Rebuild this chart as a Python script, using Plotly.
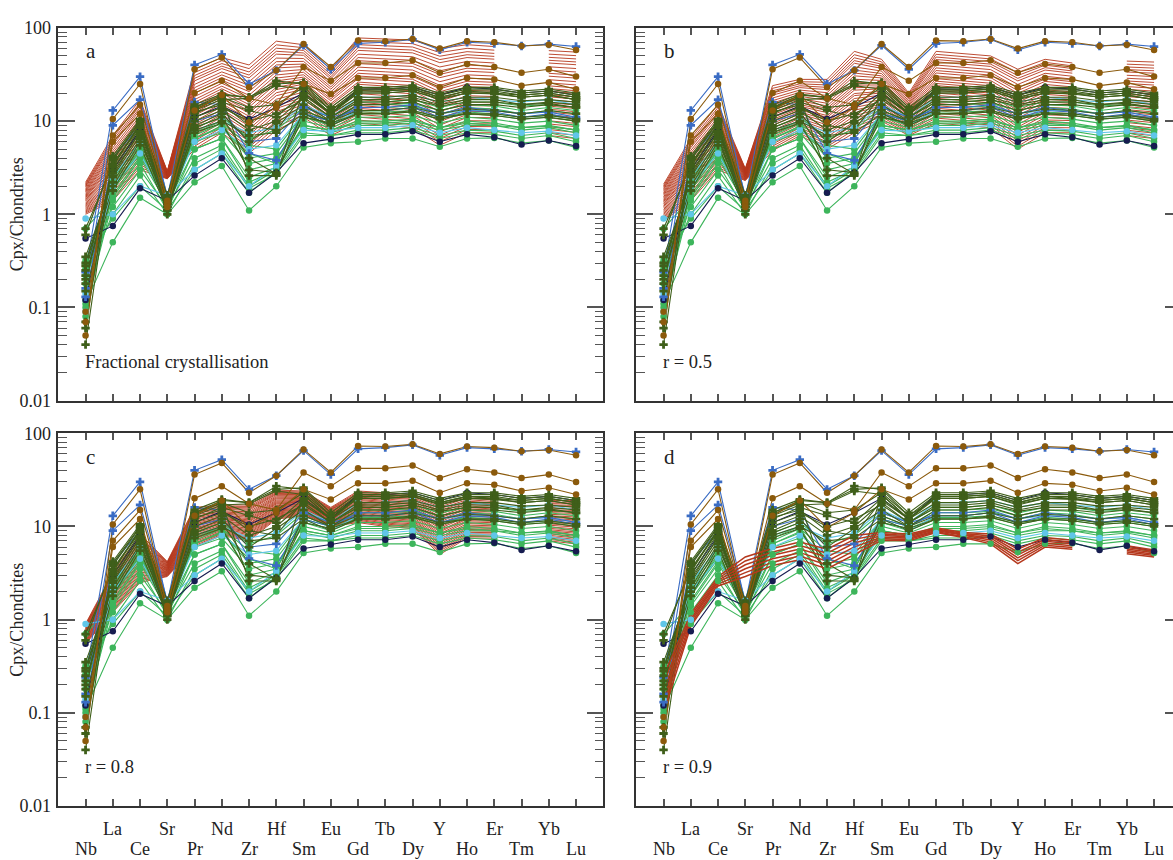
import numpy as np
import plotly.graph_objects as go

# ---------------------------------------------------------------- elements
ELEMENTS = ["Nb", "La", "Ce", "Sr", "Pr", "Nd", "Zr", "Hf", "Sm", "Eu",
            "Gd", "Tb", "Dy", "Y", "Ho", "Er", "Tm", "Yb", "Lu"]

# ------------------------------------------------- clinopyroxene analyses
# chondrite-normalised, order as ELEMENTS
BLUE_SAMPLES = [
    [0.24, 13, 30, 1.5, 40, 52, 25, 35, 65, 36, 68, 70, 75, 58, 70, 68, 64, 67, 63],
    [0.16, 9.0, 17, 1.6, 16, 15, 4.5, 3.8, 12, 10, 14, 14, 15, 12, 14, 13, 12, 12.5, 11],
    [0.13, 4.0, 9.0, 1.2, 10, 12, 6.0, 6.5, 14, 11, 13, 13, 14, 11, 13, 12.5, 11, 12, 10.5],
]
BROWN_SAMPLES = [
    [0.05, 10.5, 25, 1.3, 36, 48, 23, 35, 67, 38, 73, 72, 76, 60, 72, 70, 64, 66, 58],
    [0.07, 7.0, 15, 1.4, 20, 27, 17.5, 15, 38, 27, 42, 42, 45, 33, 41, 38, 33, 36, 30],
    [0.09, 6.0, 12, 1.2, 13, 19, 9.7, 14, 25, 19.5, 29, 29, 31, 23, 29, 28, 24, 26, 22],
]
NAVY_SAMPLES = [
    [0.55, 0.75, 1.9, 1.4, 2.6, 4.0, 1.7, 2.8, 5.8, 6.4, 7.2, 7.2, 7.8, 6.0, 7.2, 6.7, 5.6, 6.2, 5.4],
    [0.12, 3.0, 8.0, 1.3, 11, 14.5, 10.5, 14, 20, 12, 22, 22, 23, 19, 23, 22, 20, 21, 19],
]
LIGHTBLUE_SAMPLES = [
    [0.9, 1.0, 2.0, 1.6, 3.0, 4.5, 2.0, 3.3, 8.0, 7.8, 8.5, 8.5, 9.0, 7.5, 8.5, 8.0, 7.5, 7.8, 7.0],
    [0.09, 2.5, 6.0, 1.5, 8.0, 10, 7.5, 8.5, 15, 11, 18, 18, 19, 16, 18, 17, 16, 17, 15],
    [0.14, 2.0, 4.5, 1.3, 6.0, 8.0, 5.0, 5.5, 12, 9.0, 13, 13, 14, 12, 13, 13, 12, 12.5, 11],
]
OLIVE_SAMPLES = [
    [0.04, 4.0, 10, 1.5, 14, 19, 18, 27, 25, 13, 22, 22, 23, 19, 22, 22, 20, 21, 19],
    [0.07, 3.5, 9.0, 1.4, 13, 17, 17.5, 24, 22, 12, 21, 21, 22, 18, 21, 21, 19, 20, 18],
    [0.2, 3.0, 8.5, 1.3, 12, 16, 13, 11, 20, 12, 20, 20, 21, 17, 20, 20, 18, 19, 17],
    [0.25, 2.8, 7.5, 1.2, 10, 13, 8.0, 10, 18, 11, 17, 17, 18, 15, 17, 17, 15, 16, 15],
    [0.3, 2.5, 7.0, 1.1, 9.0, 12, 6.0, 9.5, 15, 10, 15, 15, 16, 13, 15, 15, 14, 15, 14],
    [0.35, 2.2, 6.5, 1.2, 8.5, 11, 4.0, 2.7, 13, 10, 13, 13, 14, 12, 13.5, 13, 12, 13, 12],
    [0.18, 3.2, 9.5, 1.0, 14, 18, 2.6, 2.6, 22, 12, 21, 21, 22, 18, 21, 20, 19, 20, 18],
    [0.22, 2.0, 6.0, 1.3, 8.0, 10, 7.0, 7.5, 12, 9.0, 12, 12, 13, 11, 12, 12, 11, 11.5, 10.5],
    [0.06, 4.2, 10.5, 1.6, 15, 19.5, 18, 25, 26, 14, 23, 23, 24, 20, 23, 23, 21, 22, 20],
    [0.28, 2.6, 7.8, 1.4, 11, 14, 10, 12, 17, 11, 16, 16, 17, 14.5, 16, 16, 15, 15.5, 14],
    [0.15, 1.8, 5.5, 1.1, 7.5, 9.5, 3.0, 2.8, 11, 9.5, 12, 12, 12.5, 10.5, 12, 11.5, 10.5, 11, 10],
    [0.6, 3.8, 9.8, 1.5, 13.5, 18, 14, 15, 23, 13, 20, 20, 21, 17.5, 20, 19.5, 18, 19, 17],
    [0.7, 3.4, 8.8, 1.3, 12.5, 15, 9.0, 8.0, 19, 12, 18, 18, 19, 16, 18, 18, 16.5, 17, 16],
]
GREEN_SAMPLES = [
    [0.11, 0.5, 1.5, 1.0, 2.2, 3.3, 1.1, 2.0, 5.2, 5.8, 6.0, 6.5, 6.5, 5.3, 6.5, 6.6, 5.8, 6.2, 5.2],
    [0.3, 0.9, 2.0, 1.1, 3.0, 4.5, 1.7, 2.9, 7.5, 7.0, 8.0, 8.0, 8.5, 7.0, 8.0, 7.8, 7.0, 7.5, 6.5],
    [0.25, 1.2, 3.0, 1.2, 4.0, 5.5, 2.0, 3.0, 8.5, 7.5, 9.0, 9.0, 9.5, 8.0, 9.0, 9.0, 8.0, 8.5, 7.5],
    [0.7, 1.5, 4.0, 1.3, 5.0, 6.5, 2.5, 3.2, 9.0, 8.0, 10, 10, 10.5, 8.5, 10, 9.5, 8.5, 9.0, 8.0],
    [0.32, 1.8, 4.5, 1.4, 6.0, 7.5, 3.5, 4.0, 10, 8.5, 11, 11, 11.5, 9.5, 11, 10.5, 9.5, 10, 9.0],
    [0.12, 1.6, 4.2, 1.5, 6.5, 8.5, 4.5, 3.5, 11, 9.0, 12, 12, 12.5, 10.5, 12, 11.5, 10.5, 11, 10],
    [0.26, 2.0, 5.0, 1.3, 7.0, 9.5, 5.5, 5.0, 12, 10, 14, 14, 14.5, 12, 14, 13.5, 12, 13, 12],
    [0.18, 2.2, 5.5, 1.2, 7.5, 10, 3.0, 3.5, 13, 10, 15, 15, 15.5, 13, 15, 14.5, 13, 14, 13],
    [0.1, 1.4, 3.5, 1.1, 5.0, 6.5, 2.2, 3.0, 9.0, 8.0, 9.5, 9.5, 10, 8.5, 9.5, 9.0, 8.5, 8.8, 8.0],
    [0.22, 1.0, 2.6, 1.0, 3.5, 5.0, 1.9, 2.7, 7.0, 7.0, 7.5, 7.5, 8.0, 6.5, 7.5, 7.2, 6.5, 7.0, 6.0],
    [0.3, 2.4, 6.0, 1.4, 8.5, 11, 6.5, 8.0, 14, 11, 16, 16, 17, 14, 16, 16, 14.5, 15, 14],
    [0.08, 1.9, 4.8, 1.2, 6.5, 8.8, 4.0, 4.5, 11, 9.5, 12.5, 12.5, 13, 11, 12.5, 12, 11, 11.5, 10.5],
]

# ------------------------------------------------------ melt evolution models
# cpx in equilibrium with the parental melt (F = 1) and with the most
# evolved melt (F = 0.1); Tm was not modelled
FC_START = [1.0, 1.4, 3.0, 2.4, 5.0, 7.5, 4.5, 8.0, 11, 7.0, 9.5, 9.0, 8.5, 5.5, 7.5, 7.5, None, 7.0, 6.5]
FC_END = [2.2, 7.0, 17, 2.9, 36, 48, 40, 72, 66, 36, 78, 76, 74, 60, 66, 63, None, 57, 55]

AFC05_START = [0.85, 1.4, 3.0, 2.3, 4.8, 7.0, 5.0, 7.5, 10, 7.0, 9.5, 9.0, 8.5, 5.0, 7.5, 7.5, None, 7.0, 6.5]
AFC05_END = [2.1, 6.5, 15, 3.1, 24, 28, 28, 56, 46, 20, 56, 53, 50, 36, 46, 42, None, 44, 43]

AFC08_START = [0.55, 1.2, 2.5, 2.9, 6.0, 8.0, 7.0, 12, 13, 10, 11, 10, 9.5, 5.0, 7.5, 7.5, None, 7.0, 6.5]
AFC08_END = [0.9, 3.2, 8.3, 4.2, 16, 17, 17, 24.5, 24, 16, 24, 23, 22, 17, 21, 20, None, 19, 19]

AFC09_START = [0.1, 0.85, 2.3, 2.9, 3.8, 4.4, 3.5, 5.0, 7.1, 7.0, 8.6, 7.6, 6.5, 4.0, 6.0, 5.7, None, 5.1, 4.7]
AFC09_END = [0.25, 1.15, 2.9, 4.7, 5.8, 6.8, 5.7, 8.0, 8.6, 8.3, 9.7, 8.6, 8.3, 5.7, 7.6, 7.1, None, 6.2, 5.6]

# remaining melt fraction at each plotted model step
F_STEPS = [1.00, 0.92, 0.85, 0.79, 0.73, 0.67, 0.62, 0.57, 0.53, 0.49,
           0.45, 0.41, 0.38, 0.35, 0.33, 0.30, 0.28, 0.26, 0.24, 0.22,
           0.20, 0.185, 0.17, 0.155, 0.14, 0.13, 0.12, 0.11, 0.10]
F_STEPS_R09 = [1.00, 0.63, 0.40, 0.25, 0.16, 0.10]

PANEL_LETTERS = ["a", "b", "c", "d"]
PANEL_NOTES = ["Fractional crystallisation", "r = 0.5", "r = 0.8", "r = 0.9"]
Y_TICKS = [0.01, 0.1, 1, 10, 100]
Y_TICK_TEXT = ["0.01", "0.1", "1", "10", "100"]

# ------------------------------------------------------------------ styling
RED = "#b5381d"
GROUPS = [
    (GREEN_SAMPLES, "#3db55b", "circle", 6.5),
    (LIGHTBLUE_SAMPLES, "#60c6e8", "circle", 6.5),
    (NAVY_SAMPLES, "#161c50", "circle", 6.5),
    (BLUE_SAMPLES, "#3a6cc4", "cross", 7),
    (OLIVE_SAMPLES, "#3f5f1a", "cross", 7),
    (BROWN_SAMPLES, "#8b5a0c", "circle", 6.5),
]
# model line width, and whether the curves sit above the sample lines
MODEL_STYLE = [(0.9, False), (0.9, False), (0.9, False), (1.5, True)]
FONT = "Liberation Serif, Times New Roman, serif"
W, H = 1185, 860


def rayleigh_lines(start, end, steps):
    """C = C0 * F**(D-1), bulk D fixed so that F = 0.1 gives `end`."""
    c0 = np.array([np.nan if v is None else v for v in start], float)
    c1 = np.array([np.nan if v is None else v for v in end], float)
    bulk_d = 1.0 - np.log10(c1 / c0)
    out = []
    for f in steps:
        c = c0 * f ** (bulk_d - 1.0)
        out.append([None if np.isnan(v) else float(v) for v in c])
    return out


MODELS = [rayleigh_lines(FC_START, FC_END, F_STEPS),
          rayleigh_lines(AFC05_START, AFC05_END, F_STEPS),
          rayleigh_lines(AFC08_START, AFC08_END, F_STEPS),
          rayleigh_lines(AFC09_START, AFC09_END, F_STEPS_R09)]

# panel frames in pixels: (left, right, top, bottom)
FRAMES = [(58.3, 603.3, 18.3, 400.0), (636.3, 1181.3, 18.3, 400.0),
          (58.3, 603.3, 433.3, 815.0), (636.3, 1181.3, 433.3, 815.0)]

fig = go.Figure()
x_idx = list(range(len(ELEMENTS)))


def add_models(p, xa, ya):
    width = MODEL_STYLE[p][0]
    for m in MODELS[p]:
        fig.add_trace(go.Scatter(x=x_idx, y=m, mode="lines", xaxis=xa, yaxis=ya,
                                 line=dict(color=RED, width=width),
                                 connectgaps=False, showlegend=False,
                                 hoverinfo="skip"))


for p in range(4):
    xa = "x" if p == 0 else f"x{p + 1}"
    ya = "y" if p == 0 else f"y{p + 1}"
    on_top = MODEL_STYLE[p][1]
    if not on_top:
        add_models(p, xa, ya)
    for samples, col, sym, size in GROUPS:
        for s in samples:
            fig.add_trace(go.Scatter(x=x_idx, y=s, mode="lines", xaxis=xa, yaxis=ya,
                                     line=dict(color=col, width=1.1),
                                     showlegend=False, hoverinfo="skip"))
    if on_top:
        add_models(p, xa, ya)
    for samples, col, sym, size in GROUPS:
        for s in samples:
            fig.add_trace(go.Scatter(x=x_idx, y=s, mode="markers", xaxis=xa, yaxis=ya,
                                     marker=dict(color=col, symbol=sym, size=size,
                                                 line=dict(width=0)),
                                     showlegend=False, hoverinfo="skip"))

minor_vals = [m * 10.0 ** e for e in range(-2, 2) for m in range(2, 10)]
layout = dict(width=W, height=H, margin=dict(l=0, r=0, t=0, b=0),
              paper_bgcolor="white", plot_bgcolor="white",
              font=dict(family=FONT, size=18, color="#222"))

annotations = []
for p, (l, r, t, b) in enumerate(FRAMES):
    sfx = "" if p == 0 else str(p + 1)
    layout["xaxis" + sfx] = dict(
        domain=[l / W, r / W], range=[-1, 19], anchor="y" + sfx,
        tickvals=x_idx, showticklabels=False, ticks="inside", ticklen=7,
        tickwidth=1.5, tickcolor="#555", showline=True, linecolor="#333",
        linewidth=1.5, mirror="ticks", showgrid=False, zeroline=False)
    layout["yaxis" + sfx] = dict(
        domain=[1 - b / H, 1 - t / H], type="log", range=[-2, 2],
        anchor="x" + sfx, tickvals=Y_TICKS, ticktext=Y_TICK_TEXT,
        showticklabels=(p % 2 == 0), ticks="inside", ticklen=17,
        ticklabelstandoff=2,
        tickwidth=1.5, tickcolor="#555", showline=True, linecolor="#333",
        linewidth=1.5, mirror="ticks", showgrid=False, zeroline=False,
        tickfont=dict(family=FONT, size=18, color="#222"),
        minor=dict(tickvals=minor_vals, ticks="inside", ticklen=9,
                   tickwidth=1.3, tickcolor="#555", showgrid=False))
    annotations.append(dict(text=PANEL_LETTERS[p], x=(l + 26) / W, y=1 - (t + 24) / H,
                            xref="paper", yref="paper", xanchor="left", yanchor="middle",
                            showarrow=False, font=dict(family=FONT, size=21, color="#222")))
    annotations.append(dict(text=PANEL_NOTES[p], x=(l + 25) / W, y=1 - (b - 40) / H,
                            xref="paper", yref="paper", xanchor="left", yanchor="middle",
                            showarrow=False, font=dict(family=FONT, size=18.5, color="#222")))
    if p % 2 == 0:
        annotations.append(dict(text="Cpx/Chondrites", x=17 / W, y=1 - (t + b) / 2 / H,
                                xref="paper", yref="paper", textangle=-90,
                                xanchor="center", yanchor="middle", showarrow=False,
                                font=dict(family=FONT, size=18, color="#222")))
    if p >= 2:
        for i, el in enumerate(ELEMENTS):
            row_y = 859 if i % 2 == 0 else 839
            annotations.append(dict(text=el, x=i, y=1 - row_y / H, xref="x" + sfx,
                                    yref="paper", xanchor="center", yanchor="middle",
                                    showarrow=False,
                                    font=dict(family=FONT, size=18, color="#222")))

layout["annotations"] = annotations
fig.update_layout(**layout)

fig.write_html("out.html",
               post_script="document.body.style.overflow='hidden';"
                           "document.documentElement.style.overflow='hidden';")
